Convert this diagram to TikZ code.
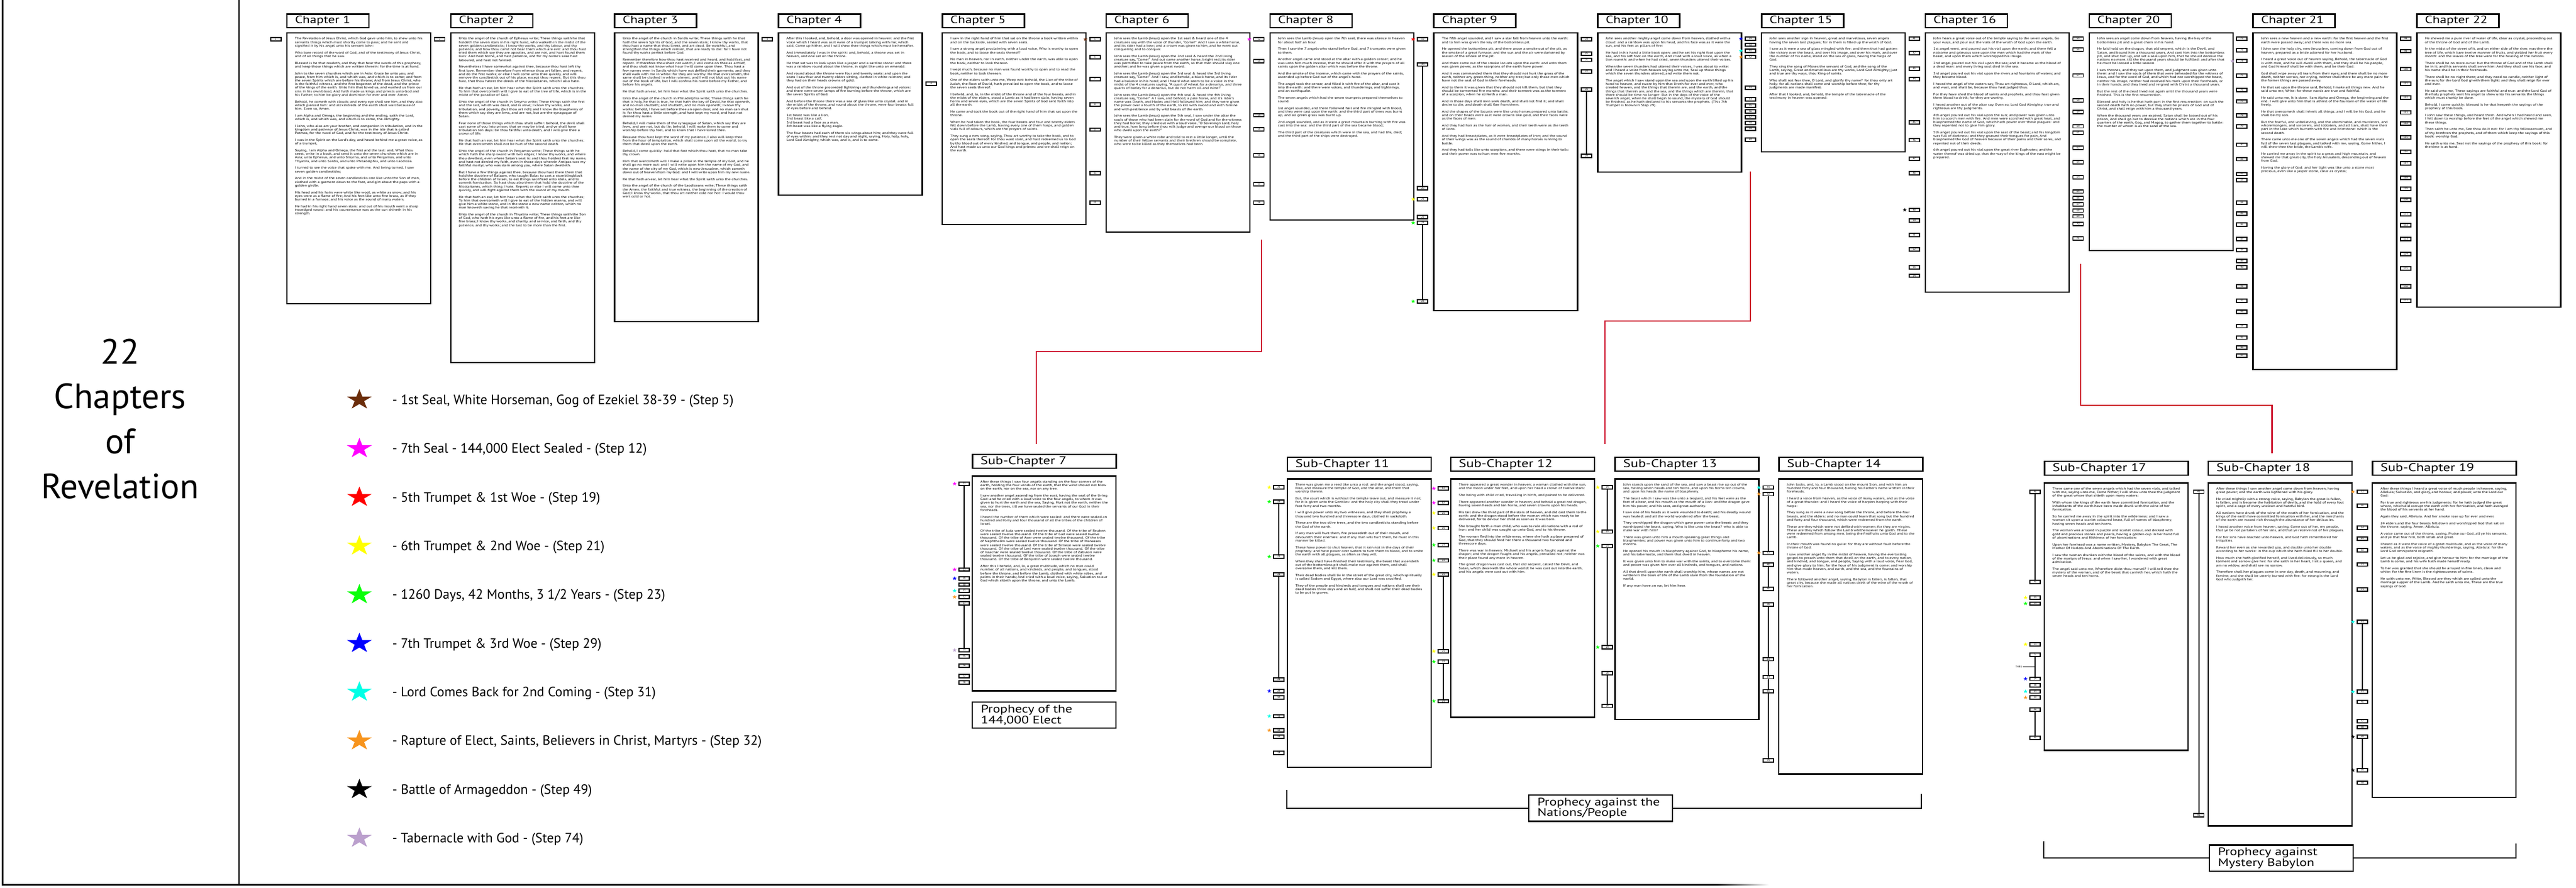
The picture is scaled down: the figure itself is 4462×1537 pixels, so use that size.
\documentclass[tikz,border=0pt]{standalone}
\usepackage{fontspec}
\usepackage{ifthen}
\setmainfont{PT Sans}
\newfontfamily\widefont[FakeStretch=1.25]{PT Sans}
\usetikzlibrary{shapes.geometric}

\definecolor{sealbrown}{RGB}{107,45,10}
\definecolor{sealmag}{RGB}{255,0,255}
\definecolor{woered}{RGB}{255,0,0}
\definecolor{woeyellow}{RGB}{255,255,0}
\definecolor{daygreen}{RGB}{10,255,10}
\definecolor{trumpblue}{RGB}{0,0,255}
\definecolor{comecyan}{RGB}{0,255,230}
\definecolor{raptorange}{RGB}{247,148,29}
\definecolor{tablilac}{RGB}{187,160,205}
\definecolor{connred}{RGB}{205,20,45}

\tikzset{
  chap/.style={draw, line width=2.6pt, anchor=north west, minimum width=142pt, minimum height=23.5pt,
    inner xsep=14pt, inner ysep=0pt, text width=114pt, align=left, font=\widefont\fontsize{18.5}{18.5}\selectfont},
  subhead/.style={chap, minimum width=249pt, minimum height=24pt, text width=221pt, font=\widefont\fontsize{19.5}{19.5}\selectfont},
  body/.style={draw, line width=2.4pt, anchor=north west, inner xsep=14pt, inner ysep=8pt,
    font=\widefont\fontsize{5.6}{6.2}\selectfont},
  caption/.style={draw, line width=2.4pt, anchor=north west, minimum width=249pt, minimum height=45.5pt,
    inner xsep=15pt, inner ysep=0pt, text width=219pt, align=left, font=\widefont\fontsize{19}{18.6}\selectfont},
  stepbox/.style={draw, line width=1.8pt, fill=white, minimum width=18pt, minimum height=5.6pt, inner sep=0pt,
    font=\fontsize{4.5}{4.5}\selectfont},
  bar/.style={line width=2pt},
  tinystar/.style={star, star points=5, star point ratio=2.5, inner sep=0pt, minimum size=6.8pt, xscale=1.15},
  keystar/.style={star, star points=5, star point ratio=2.6, inner sep=0pt, minimum size=37pt, xscale=1.22},
  keytext/.style={anchor=base west, font=\fontsize{23.5}{23.5}\selectfont},
  title/.style={anchor=base, font=\fontsize{61}{61}\selectfont},
  redline/.style={line width=2.2pt, draw=connred},
  bracket/.style={line width=2.2pt},
}

\newcommand{\vtext}[2]{\begin{minipage}[t][#1][t]{221pt}\raggedright\setlength{\parskip}{5.6pt}#2\end{minipage}}
\newcommand{\chaptext}[2]{\expandafter\def\csname rvtext#1\endcsname{#2}}
\newcommand{\subchaptext}[2]{\expandafter\def\csname subtext#1\endcsname{#2}}

% chapter texts
\chaptext{1}{The Revelation of Jesus Christ, which God gave unto him, to shew unto his servants things which must shortly come to pass; and he sent and signified it by his angel unto his servant John:\par
Who bare record of the word of God, and of the testimony of Jesus Christ, and of all things that he saw.\par
Blessed is he that readeth, and they that hear the words of this prophecy, and keep those things which are written therein: for the time is at hand.\par
John to the seven churches which are in Asia: Grace be unto you, and peace, from him which is, and which was, and which is to come; and from the seven Spirits which are before his throne; And from Jesus Christ, who is the faithful witness, and the first begotten of the dead, and the prince of the kings of the earth. Unto him that loved us, and washed us from our sins in his own blood, And hath made us kings and priests unto God and his Father; to him be glory and dominion for ever and ever. Amen.\par
Behold, he cometh with clouds; and every eye shall see him, and they also which pierced him: and all kindreds of the earth shall wail because of him. Even so, Amen.\par
I am Alpha and Omega, the beginning and the ending, saith the Lord, which is, and which was, and which is to come, the Almighty.\par
I John, who also am your brother, and companion in tribulation, and in the kingdom and patience of Jesus Christ, was in the isle that is called Patmos, for the word of God, and for the testimony of Jesus Christ.\par
I was in the Spirit on the Lord's day, and heard behind me a great voice, as of a trumpet,\par
Saying, I am Alpha and Omega, the first and the last: and, What thou seest, write in a book, and send it unto the seven churches which are in Asia; unto Ephesus, and unto Smyrna, and unto Pergamos, and unto Thyatira, and unto Sardis, and unto Philadelphia, and unto Laodicea.\par
I turned to see the voice that spake with me. And being turned, I saw seven golden candlesticks;\par
And in the midst of the seven candlesticks one like unto the Son of man, clothed with a garment down to the foot, and girt about the paps with a golden girdle.\par
His head and his hairs were white like wool, as white as snow; and his eyes were as a flame of fire; And his feet like unto fine brass, as if they burned in a furnace; and his voice as the sound of many waters.\par
He had in his right hand seven stars: and out of his mouth went a sharp twoedged sword: and his countenance was as the sun shineth in his strength.}
\chaptext{2}{Unto the angel of the church of Ephesus write; These things saith he that holdeth the seven stars in his right hand, who walketh in the midst of the seven golden candlesticks; I know thy works, and thy labour, and thy patience, and how thou canst not bear them which are evil: and thou hast tried them which say they are apostles, and are not, and hast found them liars: And hast borne, and hast patience, and for my name's sake hast laboured, and hast not fainted.\par
Nevertheless I have somewhat against thee, because thou hast left thy first love. Remember therefore from whence thou art fallen, and repent, and do the first works; or else I will come unto thee quickly, and will remove thy candlestick out of his place, except thou repent. But this thou hast, that thou hatest the deeds of the Nicolaitanes, which I also hate.\par
He that hath an ear, let him hear what the Spirit saith unto the churches; To him that overcometh will I give to eat of the tree of life, which is in the midst of the paradise of God.\par
Unto the angel of the church in Smyrna write; These things saith the first and the last, which was dead, and is alive; I know thy works, and tribulation, and poverty, (but thou art rich) and I know the blasphemy of them which say they are Jews, and are not, but are the synagogue of Satan.\par
Fear none of those things which thou shalt suffer: behold, the devil shall cast some of you into prison, that ye may be tried; and ye shall have tribulation ten days: be thou faithful unto death, and I will give thee a crown of life.\par
He that hath an ear, let him hear what the Spirit saith unto the churches; He that overcometh shall not be hurt of the second death.\par
Unto the angel of the church in Pergamos write; These things saith he which hath the sharp sword with two edges; I know thy works, and where thou dwellest, even where Satan's seat is: and thou holdest fast my name, and hast not denied my faith, even in those days wherein Antipas was my faithful martyr, who was slain among you, where Satan dwelleth.\par
But I have a few things against thee, because thou hast there them that hold the doctrine of Balaam, who taught Balac to cast a stumblingblock before the children of Israel, to eat things sacrificed unto idols, and to commit fornication. So hast thou also them that hold the doctrine of the Nicolaitanes, which thing I hate. Repent; or else I will come unto thee quickly, and will fight against them with the sword of my mouth.\par
He that hath an ear, let him hear what the Spirit saith unto the churches; To him that overcometh will I give to eat of the hidden manna, and will give him a white stone, and in the stone a new name written, which no man knoweth saving he that receiveth it.\par
Unto the angel of the church in Thyatira write; These things saith the Son of God, who hath his eyes like unto a flame of fire, and his feet are like fine brass; I know thy works, and charity, and service, and faith, and thy patience, and thy works; and the last to be more than the first.}
\chaptext{3}{Unto the angel of the church in Sardis write; These things saith he that hath the seven Spirits of God, and the seven stars; I know thy works, that thou hast a name that thou livest, and art dead. Be watchful, and strengthen the things which remain, that are ready to die: for I have not found thy works perfect before God.\par
Remember therefore how thou hast received and heard, and hold fast, and repent. If therefore thou shalt not watch, I will come on thee as a thief, and thou shalt not know what hour I will come upon thee. Thou hast a few names even in Sardis which have not defiled their garments; and they shall walk with me in white: for they are worthy. He that overcometh, the same shall be clothed in white raiment; and I will not blot out his name out of the book of life, but I will confess his name before my Father, and before his angels.\par
He that hath an ear, let him hear what the Spirit saith unto the churches.\par
Unto the angel of the church in Philadelphia write; These things saith he that is holy, he that is true, he that hath the key of David, he that openeth, and no man shutteth; and shutteth, and no man openeth; I know thy works: behold, I have set before thee an open door, and no man can shut it: for thou hast a little strength, and hast kept my word, and hast not denied my name.\par
Behold, I will make them of the synagogue of Satan, which say they are Jews, and are not, but do lie; behold, I will make them to come and worship before thy feet, and to know that I have loved thee.\par
Because thou hast kept the word of my patience, I also will keep thee from the hour of temptation, which shall come upon all the world, to try them that dwell upon the earth.\par
Behold, I come quickly: hold that fast which thou hast, that no man take thy crown.\par
Him that overcometh will I make a pillar in the temple of my God, and he shall go no more out: and I will write upon him the name of my God, and the name of the city of my God, which is new Jerusalem, which cometh down out of heaven from my God: and I will write upon him my new name.\par
He that hath an ear, let him hear what the Spirit saith unto the churches.\par
Unto the angel of the church of the Laodiceans write; These things saith the Amen, the faithful and true witness, the beginning of the creation of God; I know thy works, that thou art neither cold nor hot: I would thou wert cold or hot.}
\chaptext{4}{After this I looked, and, behold, a door was opened in heaven: and the first voice which I heard was as it were of a trumpet talking with me; which said, Come up hither, and I will shew thee things which must be hereafter.\par
And immediately I was in the spirit: and, behold, a throne was set in heaven, and one sat on the throne.\par
He that sat was to look upon like a jasper and a sardine stone: and there was a rainbow round about the throne, in sight like unto an emerald.\par
And round about the throne were four and twenty seats: and upon the seats I saw four and twenty elders sitting, clothed in white raiment; and they had on their heads crowns of gold.\par
And out of the throne proceeded lightnings and thunderings and voices: and there were seven lamps of fire burning before the throne, which are the seven Spirits of God.\par
And before the throne there was a sea of glass like unto crystal: and in the midst of the throne, and round about the throne, were four beasts full of eyes before and behind.\par
1st beast was like a lion,\newline 2nd beast like a calf,\newline 3rd beast had a face as a man,\newline 4th beast was like a flying eagle.\par
The four beasts had each of them six wings about him; and they were full of eyes within: and they rest not day and night, saying, Holy, holy, holy, Lord God Almighty, which was, and is, and is to come.}
\chaptext{5}{I saw in the right hand of him that sat on the throne a book written within and on the backside, sealed with seven seals.\par
I saw a strong angel proclaiming with a loud voice, Who is worthy to open the book, and to loose the seals thereof?\par
No man in heaven, nor in earth, neither under the earth, was able to open the book, neither to look thereon.\par
I wept much, because no man was found worthy to open and to read the book, neither to look thereon.\par
One of the elders saith unto me, Weep not: behold, the Lion of the tribe of Judah, the Root of David, hath prevailed to open the book, and to loose the seven seals thereof.\par
I beheld, and, lo, in the midst of the throne and of the four beasts, and in the midst of the elders, stood a Lamb as it had been slain, having seven horns and seven eyes, which are the seven Spirits of God sent forth into all the earth.\par
He came and took the book out of the right hand of him that sat upon the throne.\par
When he had taken the book, the four beasts and four and twenty elders fell down before the Lamb, having every one of them harps, and golden vials full of odours, which are the prayers of saints.\par
They sung a new song, saying, Thou art worthy to take the book, and to open the seals thereof: for thou wast slain, and hast redeemed us to God by thy blood out of every kindred, and tongue, and people, and nation; And hast made us unto our God kings and priests: and we shall reign on the earth.}
\chaptext{6}{John sees the Lamb (Jesus) open the 1st seal \& heard one of the 4 creatures say with the voice of thunder, “Come!” And I saw a white horse, and its rider had a bow; and a crown was given to him, and he went out conquering and to conquer.\par
John sees the Lamb (Jesus) open the 2nd seal \& heard the 2nd living creature say, “Come!” And out came another horse, bright red; its rider was permitted to take peace from the earth, so that men should slay one another; and he was given a great sword.\par
John sees the Lamb (Jesus) open the 3rd seal \& heard the 3rd living creature say, “Come!” And I saw, and behold, a black horse, and its rider had a balance in his hand; and I heard what seem to be a voice in the midst of the 4 creatures saying, “A quart of wheat for a denarius, and three quarts of barley for a denarius, but do not harm oil and wine!”\par
John sees the Lamb (Jesus) open the 4th seal \& heard the 4th living creature say, “Come!” A I saw, and behold, a pale horse, and it's rider's name was Death, and Hades and Hell followed him; and they were given the power over a fourth of the earth, to kill with sword and with famine and with pestilence and by wild beasts of the earth.\par
John sees the Lamb (Jesus) open the 5th seal, I saw under the altar the souls of those who had been slain for the word of God and for the witness they had borne; they cried out with a loud voice, “O Sovereign Lord, holy and true, how long before thou wilt judge and avenge our blood on those who dwell upon the earth?”\par
They were given a white robe and told to rest a little longer, until the number of their fellow servants and their brethren should be complete, who were to be killed as they themselves had been.}
\chaptext{8}{John sees the Lamb (Jesus) open the 7th seal, there was silence in heaven for about half an hour.\par
Then I saw the 7 angels who stand before God, and 7 trumpets were given to them.\par
Another angel came and stood at the altar with a golden censer; and he was unto him much incense, that he should offer it with the prayers of all saints upon the golden altar which was before the throne.\par
And the smoke of the incense, which came with the prayers of the saints, ascended up before God out of the angel's hand.\par
The angel took the censer, and filled it with fire of the altar, and cast it into the earth: and there were voices, and thunderings, and lightnings, and an earthquake.\par
The seven angels which had the seven trumpets prepared themselves to sound.\par
1st angel sounded, and there followed hail and fire mingled with blood, and they were cast upon the earth: and the third part of trees was burnt up, and all green grass was burnt up.\par
2nd angel sounded, and as it were a great mountain burning with fire was cast into the sea: and the third part of the sea became blood;\par
The third part of the creatures which were in the sea, and had life, died; and the third part of the ships were destroyed.}
\chaptext{9}{The fifth angel sounded, and I saw a star fall from heaven unto the earth: and to him was given the key of the bottomless pit.\par
He opened the bottomless pit; and there arose a smoke out of the pit, as the smoke of a great furnace; and the sun and the air were darkened by reason of the smoke of the pit.\par
And there came out of the smoke locusts upon the earth: and unto them was given power, as the scorpions of the earth have power.\par
And it was commanded them that they should not hurt the grass of the earth, neither any green thing, neither any tree; but only those men which have not the seal of God in their foreheads.\par
And to them it was given that they should not kill them, but that they should be tormented five months: and their torment was as the torment of a scorpion, when he striketh a man.\par
And in those days shall men seek death, and shall not find it; and shall desire to die, and death shall flee from them.\par
And the shapes of the locusts were like unto horses prepared unto battle; and on their heads were as it were crowns like gold, and their faces were as the faces of men.\par
And they had hair as the hair of women, and their teeth were as the teeth of lions.\par
And they had breastplates, as it were breastplates of iron; and the sound of their wings was as the sound of chariots of many horses running to battle.\par
And they had tails like unto scorpions, and there were stings in their tails: and their power was to hurt men five months.}
\chaptext{10}{John sees another mighty angel come down from heaven, clothed with a cloud: and a rainbow was upon his head, and his face was as it were the sun, and his feet as pillars of fire:\par
He had in his hand a little book open: and he set his right foot upon the sea, and his left foot on the earth, And cried with a loud voice, as when a lion roareth: and when he had cried, seven thunders uttered their voices.\par
When the seven thunders had uttered their voices, I was about to write: and I heard a voice from heaven saying unto me, Seal up those things which the seven thunders uttered, and write them not.\par
The angel which I saw stand upon the sea and upon the earth lifted up his hand to heaven, and sware by him that liveth for ever and ever, who created heaven, and the things that therein are, and the earth, and the things that therein are, and the sea, and the things which are therein, that there should be time no longer: But in the days of the voice of the seventh angel, when he shall begin to sound, the mystery of God should be finished, as he hath declared to his servants the prophets. (This 7th Trumpet is blown in Step 29).}
\chaptext{15}{John sees another sign in heaven, great and marvellous, seven angels having the seven last plagues; for in them is filled up the wrath of God.\par
I saw as it were a sea of glass mingled with fire: and them that had gotten the victory over the beast, and over his image, and over his mark, and over the number of his name, stand on the sea of glass, having the harps of God.\par
They sing the song of Moses the servant of God, and the song of the Lamb, saying, Great and marvellous are thy works, Lord God Almighty; just and true are thy ways, thou King of saints.\par
Who shall not fear thee, O Lord, and glorify thy name? for thou only art holy: for all nations shall come and worship before thee; for thy judgments are made manifest.\par
After that I looked, and, behold, the temple of the tabernacle of the testimony in heaven was opened:}
\chaptext{16}{John hears a great voice out of the temple saying to the seven angels, Go your ways, and pour out the vials of the wrath of God upon the earth.\par
1st angel went, and poured out his vial upon the earth; and there fell a noisome and grievous sore upon the men which had the mark of the beast, and upon them which worshipped his image.\par
2nd angel poured out his vial upon the sea; and it became as the blood of a dead man: and every living soul died in the sea.\par
3rd angel poured out his vial upon the rivers and fountains of waters; and they became blood.\par
I heard the angel of the waters say, Thou art righteous, O Lord, which art, and wast, and shalt be, because thou hast judged thus.\par
For they have shed the blood of saints and prophets, and thou hast given them blood to drink; for they are worthy.\par
I heard another out of the altar say, Even so, Lord God Almighty, true and righteous are thy judgments.\par
4th angel poured out his vial upon the sun; and power was given unto him to scorch men with fire. And men were scorched with great heat, and blasphemed the name of God, which hath power over these plagues: and they repented not to give him glory.\par
5th angel poured out his vial upon the seat of the beast; and his kingdom was full of darkness; and they gnawed their tongues for pain, And blasphemed the God of heaven because of their pains and their sores, and repented not of their deeds.\par
6th angel poured out his vial upon the great river Euphrates; and the water thereof was dried up, that the way of the kings of the east might be prepared.}
\chaptext{20}{John sees an angel come down from heaven, having the key of the bottomless pit and a great chain in his hand.\par
He laid hold on the dragon, that old serpent, which is the Devil, and Satan, and bound him a thousand years, And cast him into the bottomless pit, and shut him up, and set a seal upon him, that he should deceive the nations no more, till the thousand years should be fulfilled: and after that he must be loosed a little season.\par
I saw thrones, and they sat upon them, and judgment was given unto them: and I saw the souls of them that were beheaded for the witness of Jesus, and for the word of God, and which had not worshipped the beast, neither his image, neither had received his mark upon their foreheads, or in their hands; and they lived and reigned with Christ a thousand years.\par
But the rest of the dead lived not again until the thousand years were finished. This is the first resurrection.\par
Blessed and holy is he that hath part in the first resurrection: on such the second death hath no power, but they shall be priests of God and of Christ, and shall reign with him a thousand years.\par
When the thousand years are expired, Satan shall be loosed out of his prison, And shall go out to deceive the nations which are in the four quarters of the earth, Gog, and Magog, to gather them together to battle: the number of whom is as the sand of the sea.}
\chaptext{21}{John sees a new heaven and a new earth: for the first heaven and the first earth were passed away; and there was no more sea.\par
I John saw the holy city, new Jerusalem, coming down from God out of heaven, prepared as a bride adorned for her husband.\par
I heard a great voice out of heaven saying, Behold, the tabernacle of God is with men, and he will dwell with them, and they shall be his people, and God himself shall be with them, and be their God.\par
God shall wipe away all tears from their eyes; and there shall be no more death, neither sorrow, nor crying, neither shall there be any more pain: for the former things are passed away.\par
He that sat upon the throne said, Behold, I make all things new. And he said unto me, Write: for these words are true and faithful.\par
He said unto me, It is done. I am Alpha and Omega, the beginning and the end. I will give unto him that is athirst of the fountain of the water of life freely.\par
He that overcometh shall inherit all things; and I will be his God, and he shall be my son.\par
But the fearful, and unbelieving, and the abominable, and murderers, and whoremongers, and sorcerers, and idolaters, and all liars, shall have their part in the lake which burneth with fire and brimstone: which is the second death.\par
There came unto me one of the seven angels which had the seven vials full of the seven last plagues, and talked with me, saying, Come hither, I will shew thee the bride, the Lamb's wife.\par
He carried me away in the spirit to a great and high mountain, and shewed me that great city, the holy Jerusalem, descending out of heaven from God,\par
Having the glory of God: and her light was like unto a stone most precious, even like a jasper stone, clear as crystal;}
\chaptext{22}{He shewed me a pure river of water of life, clear as crystal, proceeding out of the throne of God and of the Lamb.\par
In the midst of the street of it, and on either side of the river, was there the tree of life, which bare twelve manner of fruits, and yielded her fruit every month: and the leaves of the tree were for the healing of the nations.\par
There shall be no more curse: but the throne of God and of the Lamb shall be in it; and his servants shall serve him: And they shall see his face; and his name shall be in their foreheads.\par
There shall be no night there; and they need no candle, neither light of the sun; for the Lord God giveth them light: and they shall reign for ever and ever.\par
He said unto me, These sayings are faithful and true: and the Lord God of the holy prophets sent his angel to shew unto his servants the things which must shortly be done.\par
Behold, I come quickly: blessed is he that keepeth the sayings of the prophecy of this book.\par
I John saw these things, and heard them. And when I had heard and seen, I fell down to worship before the feet of the angel which shewed me these things.\par
Then saith he unto me, See thou do it not: for I am thy fellowservant, and of thy brethren the prophets, and of them which keep the sayings of this book: worship God.\par
He saith unto me, Seal not the sayings of the prophecy of this book: for the time is at hand.}

% sub-chapter texts
\subchaptext{7}{After these things I saw four angels standing on the four corners of the earth, holding the four winds of the earth, that the wind should not blow on the earth, nor on the sea, nor on any tree.\par
I saw another angel ascending from the east, having the seal of the living God: and he cried with a loud voice to the four angels, to whom it was given to hurt the earth and the sea, Saying, Hurt not the earth, neither the sea, nor the trees, till we have sealed the servants of our God in their foreheads.\par
I heard the number of them which were sealed: and there were sealed an hundred and forty and four thousand of all the tribes of the children of Israel.\par
Of the tribe of Juda were sealed twelve thousand. Of the tribe of Reuben were sealed twelve thousand. Of the tribe of Gad were sealed twelve thousand. Of the tribe of Aser were sealed twelve thousand. Of the tribe of Nephthalim were sealed twelve thousand. Of the tribe of Manasses were sealed twelve thousand. Of the tribe of Simeon were sealed twelve thousand. Of the tribe of Levi were sealed twelve thousand. Of the tribe of Issachar were sealed twelve thousand. Of the tribe of Zabulon were sealed twelve thousand. Of the tribe of Joseph were sealed twelve thousand. Of the tribe of Benjamin were sealed twelve thousand.\par
After this I beheld, and, lo, a great multitude, which no man could number, of all nations, and kindreds, and people, and tongues, stood before the throne, and before the Lamb, clothed with white robes, and palms in their hands; And cried with a loud voice, saying, Salvation to our God which sitteth upon the throne, and unto the Lamb.}
\subchaptext{11}{There was given me a reed like unto a rod: and the angel stood, saying, Rise, and measure the temple of God, and the altar, and them that worship therein.\par
But, the court which is without the temple leave out, and measure it not; for it is given unto the Gentiles: and the holy city shall they tread under foot forty and two months.\par
I will give power unto my two witnesses, and they shall prophesy a thousand two hundred and threescore days, clothed in sackcloth.\par
These are the two olive trees, and the two candlesticks standing before the God of the earth.\par
If any man will hurt them, fire proceedeth out of their mouth, and devoureth their enemies: and if any man will hurt them, he must in this manner be killed.\par
These have power to shut heaven, that it rain not in the days of their prophecy: and have power over waters to turn them to blood, and to smite the earth with all plagues, as often as they will.\par
When they shall have finished their testimony, the beast that ascendeth out of the bottomless pit shall make war against them, and shall overcome them, and kill them.\par
Their dead bodies shall lie in the street of the great city, which spiritually is called Sodom and Egypt, where also our Lord was crucified.\par
They of the people and kindreds and tongues and nations shall see their dead bodies three days and an half, and shall not suffer their dead bodies to be put in graves.}
\subchaptext{12}{There appeared a great wonder in heaven; a woman clothed with the sun, and the moon under her feet, and upon her head a crown of twelve stars:\par
She being with child cried, travailing in birth, and pained to be delivered.\par
There appeared another wonder in heaven; and behold a great red dragon, having seven heads and ten horns, and seven crowns upon his heads.\par
His tail drew the third part of the stars of heaven, and did cast them to the earth: and the dragon stood before the woman which was ready to be delivered, for to devour her child as soon as it was born.\par
She brought forth a man child, who was to rule all nations with a rod of iron: and her child was caught up unto God, and to his throne.\par
The woman fled into the wilderness, where she hath a place prepared of God, that they should feed her there a thousand two hundred and threescore days.\par
There was war in heaven: Michael and his angels fought against the dragon; and the dragon fought and his angels, prevailed not; neither was their place found any more in heaven.\par
The great dragon was cast out, that old serpent, called the Devil, and Satan, which deceiveth the whole world: he was cast out into the earth, and his angels were cast out with him.}
\subchaptext{13}{John stands upon the sand of the sea, and saw a beast rise up out of the sea, having seven heads and ten horns, and upon his horns ten crowns, and upon his heads the name of blasphemy.\par
The beast which I saw was like unto a leopard, and his feet were as the feet of a bear, and his mouth as the mouth of a lion: and the dragon gave him his power, and his seat, and great authority.\par
I saw one of his heads as it were wounded to death; and his deadly wound was healed: and all the world wondered after the beast.\par
They worshipped the dragon which gave power unto the beast: and they worshipped the beast, saying, Who is like unto the beast? who is able to make war with him?\par
There was given unto him a mouth speaking great things and blasphemies; and power was given unto him to continue forty and two months.\par
He opened his mouth in blasphemy against God, to blaspheme his name, and his tabernacle, and them that dwell in heaven.\par
It was given unto him to make war with the saints, and to overcome them: and power was given him over all kindreds, and tongues, and nations.\par
All that dwell upon the earth shall worship him, whose names are not written in the book of life of the Lamb slain from the foundation of the world.\par
If any man have an ear, let him hear.}
\subchaptext{14}{John looks, and, lo, a Lamb stood on the mount Sion, and with him an hundred forty and four thousand, having his Father's name written in their foreheads.\par
I heard a voice from heaven, as the voice of many waters, and as the voice of a great thunder: and I heard the voice of harpers harping with their harps:\par
They sung as it were a new song before the throne, and before the four beasts, and the elders: and no man could learn that song but the hundred and forty and four thousand, which were redeemed from the earth.\par
These are they which were not defiled with women; for they are virgins. These are they which follow the Lamb whithersoever he goeth. These were redeemed from among men, being the firstfruits unto God and to the Lamb.\par
In their mouth was found no guile: for they are without fault before the throne of God.\par
I saw another angel fly in the midst of heaven, having the everlasting gospel to preach unto them that dwell on the earth, and to every nation, and kindred, and tongue, and people, Saying with a loud voice, Fear God, and give glory to him; for the hour of his judgment is come: and worship him that made heaven, and earth, and the sea, and the fountains of waters.\par
There followed another angel, saying, Babylon is fallen, is fallen, that great city, because she made all nations drink of the wine of the wrath of her fornication.}
\subchaptext{17}{There came one of the seven angels which had the seven vials, and talked with me, saying unto me, Come hither; I will shew unto thee the judgment of the great whore that sitteth upon many waters:\par
With whom the kings of the earth have committed fornication, and the inhabitants of the earth have been made drunk with the wine of her fornication.\par
So he carried me away in the spirit into the wilderness: and I saw a woman sit upon a scarlet coloured beast, full of names of blasphemy, having seven heads and ten horns.\par
The woman was arrayed in purple and scarlet colour, and decked with gold and precious stones and pearls, having a golden cup in her hand full of abominations and filthiness of her fornication:\par
Upon her forehead was a name written, Mystery, Babylon The Great, The Mother Of Harlots And Abominations Of The Earth.\par
I saw the woman drunken with the blood of the saints, and with the blood of the martyrs of Jesus: and when I saw her, I wondered with great admiration.\par
The angel said unto me, Wherefore didst thou marvel? I will tell thee the mystery of the woman, and of the beast that carrieth her, which hath the seven heads and ten horns.}
\subchaptext{18}{After these things I saw another angel come down from heaven, having great power; and the earth was lightened with his glory.\par
He cried mightily with a strong voice, saying, Babylon the great is fallen, is fallen, and is become the habitation of devils, and the hold of every foul spirit, and a cage of every unclean and hateful bird.\par
All nations have drunk of the wine of the wrath of her fornication, and the kings of the earth have committed fornication with her, and the merchants of the earth are waxed rich through the abundance of her delicacies.\par
I heard another voice from heaven, saying, Come out of her, my people, that ye be not partakers of her sins, and that ye receive not of her plagues.\par
For her sins have reached unto heaven, and God hath remembered her iniquities.\par
Reward her even as she rewarded you, and double unto her double according to her works: in the cup which she hath filled fill to her double.\par
How much she hath glorified herself, and lived deliciously, so much torment and sorrow give her: for she saith in her heart, I sit a queen, and am no widow, and shall see no sorrow.\par
Therefore shall her plagues come in one day, death, and mourning, and famine; and she shall be utterly burned with fire: for strong is the Lord God who judgeth her.}
\subchaptext{19}{After these things I heard a great voice of much people in heaven, saying, Alleluia; Salvation, and glory, and honour, and power, unto the Lord our God:\par
For true and righteous are his judgments: for he hath judged the great whore, which did corrupt the earth with her fornication, and hath avenged the blood of his servants at her hand.\par
Again they said, Alleluia. And her smoke rose up for ever and ever.\par
24 elders and the four beasts fell down and worshipped God that sat on the throne, saying, Amen; Alleluia.\par
A voice came out of the throne, saying, Praise our God, all ye his servants, and ye that fear him, both small and great.\par
I heard as it were the voice of a great multitude, and as the voice of many waters, and as the voice of mighty thunderings, saying, Alleluia: for the Lord God omnipotent reigneth.\par
Let us be glad and rejoice, and give honour to him: for the marriage of the Lamb is come, and his wife hath made herself ready.\par
To her was granted that she should be arrayed in fine linen, clean and white: for the fine linen is the righteousness of saints.\par
He saith unto me, Write, Blessed are they which are called unto the marriage supper of the Lamb. And he saith unto me, These are the true sayings of God.}

\begin{document}
\begin{tikzpicture}[x=1pt, y=-1pt, line join=miter]
\useasboundingbox (0,0) rectangle (4462,1537);

% frame of the title panel
\draw[line width=2.6pt] (4.6,0) -- (4.6,1532.5) -- (2968,1532.5);
\shade[left color=black, right color=white] (2968,1531.2) rectangle (3064,1533.8);
\draw[line width=2.2pt] (414,0) -- (414,1532.5);

\foreach \w [count=\i from 0] in {22,Chapters,of,Revelation}
  \node[title] (t\i) at (208,630+77.7*\i) {\w};

% legend
\foreach \clr/\txt [count=\i from 0] in {
  sealbrown/{- 1st Seal, White Horseman, Gog of Ezekiel 38-39 - (Step 5)},
  sealmag/{- 7th Seal - 144,000 Elect Sealed - (Step 12)},
  woered/{- 5th Trumpet \& 1st Woe - (Step 19)},
  woeyellow/{- 6th Trumpet \& 2nd Woe - (Step 21)},
  daygreen/{- 1260 Days, 42 Months, 3 1/2 Years - (Step 23)},
  trumpblue/{- 7th Trumpet \& 3rd Woe - (Step 29)},
  comecyan/{- Lord Comes Back for 2nd Coming - (Step 31)},
  raptorange/{- Rapture of Elect, Saints, Believers in Christ, Martyrs - (Step 32)},
  black/{- Battle of Armageddon - (Step 49)},
  tablilac/{- Tabernacle with God - (Step 74)}}{
  \node[keystar, fill=\clr] (k\i) at (622.5,692.6+84.35*\i) {};
  \node[keytext] (kt\i) at (676,700.5+84.35*\i) {\txt};
}

% the fourteen chapters of the top row
\foreach \n/\h [count=\i from 0] in {1/453.2,2/555.2,3/484.2,4/265.2,5/315.7,6/329.2,8/308.2,
    9/465.2,10/225.2,15/190.2,16/433.2,20/361.2,21/567.2,22/459.2}{
  \node[chap] (h\n) at (495.7+283.8*\i,23) {Chapter \n};
  \node[body] (c\n) at (495.7+283.8*\i,55.8) {\vtext{\h pt}{\csname rvtext\n\endcsname}};
}

% sub-chapters
\foreach \n/\x/\y/\h in {7/1683/785.7/356.2,11/2228.6/790.8/483.3,12/2511.6/790.8/396.9,
    13/2796.4/790.8/400.3,14/3080/790.8/494.9,17/3540/797.7/447,18/3823.7/797.7/578,19/4108/797.7/528.6}{
  \node[subhead] (sh\n) at (\x,\y) {Sub-Chapter \n};
  \node[body] (sc\n) at (\x,\y+37.5) {\vtext{\h pt}{\csname subtext\n\endcsname}};
}

\node[caption] (elect) at (1683,1214.5) {Prophecy of the\\144,000 Elect};
\node[caption] (nations) at (2647,1375.7) {Prophecy against the\\Nations/People};
\node[caption] (babylon) at (3825.6,1462.4) {Prophecy against\\Mystery Babylon};

% step markers: column / x / {step/y/star}
\foreach \col/\cx/\items in {
  s1/477.7/{1/68/none},
  s2/761.5/{2/68/none},
  s4/1329.1/{3/68/none},
  s5/1612.9/{4/145/none},
  s6/1896.7/{5/68/sealbrown,6/99/none,7/137/none,8/181/none,9/224.5/none,10/300/none,11/351/none},
  s8/2180.5/{12/68/sealmag,13/106/none,14/199.5/none,15/224/none,16/269/none,17/319/none,18/351/none},
  s9/2464.3/{19/68/woered,20/111.6/none,20/326/none,21/345/woeyellow,22/376/none,23/386/daygreen,23/522/daygreen},
  s10/2748.1/{24/68/none,25/93/none,26/103.6/none,27/124/none,28/155/none,28/270/none},
  s15/3031.9/{29/67/trumpblue,30/77.5/none,31/88/comecyan,32/98.6/raptorange,33/152/none,34/172/none,
    35/183/none,36/193/none,37/203/none,38/213/none,39/223/none,40/242/none},
  s16/3315.7/{41/67/none,42/92/none,43/119/none,44/137/none,45/212/none,46/242.6/none,47/275/none,
    48/300/none,49/363.6/black,50/382/none,51/407/none,52/432/none,53/463/none,54/477.5/none},
  s20/3599.5/{55/67/none,56/86/none,57/130.6/none,58/174/none,59/194/none,60/218.7/none,61/230/none,
    62/256/none,63/281/none,64/307/none,65/331.6/none,66/343/none,67/354/none,68/364.6/none,
    69/374.6/none,70/388/none,71/413/none},
  s21/3883.3/{72/67/none,73/87/none,74/105.7/tablilac,75/131/none,76/156/none,77/175.6/none,78/200/none,
    79/219/none,80/250.7/none,81/275.6/none,82/301.4/none,83/312/none,84/351/none,85/370/none,
    86/389/none,87/414/none,88/433/none,89/452/none,90/463/none,91/496/none,92/521/none,93/540/none,
    94/564.6/none,95/584.7/none,96/602/none,97/616/none},
  s22/4167.1/{98/67/none,99/88.5/none,100/119.6/none,101/145/none,102/169/none,103/194.7/none,
    104/214/none,105/238/none,106/263/none,107/283/none,108/308/none,109/327/none,110/346/none,
    111/371/none,112/390/none,113/414/none,114/440/none,115/465/none,116/496/none,117/521/none},
  t7/1670/{12/837.8/sealmag,12/986.5/sealmag,29/1001.8/trumpblue,30/1012.5/none,31/1023/comecyan,
    32/1034/raptorange,57/1045/none,74/1126/tablilac,75/1137/none,76/1153/none,77/1171/none,78/1182/none},
  t11/2215/{21/844/woeyellow,23/869/daygreen,23/964/daygreen,28/995/none,28/1177/none,29/1197/trumpblue,
    30/1208/none,31/1240.5/comecyan,32/1265/raptorange,33/1276/none,34/1304/none},
  t12/2500/{12/846/sealmag,12/871/sealmag,21/888.7/woeyellow,21/914.7/woeyellow,23/944/daygreen,
    23/970.7/daygreen,21/995/woeyellow,21/1128/woeyellow,23/1146/daygreen,23/1214.5/daygreen},
  t13/2784/{21/844/woeyellow,21/920.7/woeyellow,23/945.7/daygreen,23/1121/daygreen,28/1166/none,28/1222.7/none},
  t14/3063/{31/844.3/comecyan,32/855.7/raptorange,32/957.7/raptorange,40/978/none,46/1020/none,49/1047/none,
    63/1141.7/none,64/1172.7/none,65/1197.3/none,71/1317/none},
  t17/3525/{46/852/none,46/1008/none,21/1035/woeyellow,23/1045.4/daygreen,21/1116/woeyellow,5/1134/none,
    29/1175.7/trumpblue,30/1187/none,31/1197.6/comecyan,32/1208/raptorange,46/1229/none,46/1278/none},
  t18/3808.5/{46/851.6/none,46/1412/none},
  t19/4092/{32/851.6/raptorange,46/876/none,64/914/none,65/933/none,66/953/none,72/977.6/none,73/1021/none,
    31/1077/comecyan,31/1198/comecyan,46/1215.7/none,47/1249/none,48/1259.5/none,49/1276/black,
    49/1334/black,50/1355.6/none}}{
  \foreach \lab/\yy/\clr [count=\k] in \items {
    \node[stepbox] (\col-\k) at (\cx,\yy) {\lab};
    \ifthenelse{\equal{\clr}{none}}{}{%
      \node[tinystar, fill=\clr] (\col-\k-star) at ([xshift=-16.5pt]\col-\k.center) {};}
  }
}

% ranges between step markers
\draw[bar] (s9-2) -- (s9-3);
\draw[bar] (s9-6) -- (s9-7);
\draw[bar] (s10-5) -- (s10-6);
\draw[bar] (t7-1) -- (t7-2);
\draw[bar] (t7-7) -- (t7-8);
\draw[bar] (t11-2) -- (t11-3);
\draw[bar] (t11-4) -- (t11-5);
\draw[bar] (t12-7) -- (t12-8);
\draw[bar] (t12-9) -- (t12-10);
\draw[bar] (t13-1) -- (t13-2);
\draw[bar] (t13-3) -- (t13-4);
\draw[bar] (t13-5) -- (t13-6);
\draw[bar] (t14-2) -- (t14-3);
\draw[bar] (t14-4) -- (t14-5);
\draw[bar] (t14-6) -- (t14-7) -- (t14-8) -- (t14-9) -- (t14-10);
\draw[bar] (t17-1) -- (t17-2);
\draw[bar] (t17-6) -- (t17-7) coordinate[midway] (thrumid);
\draw[bar] (t17-11) -- (t17-12);
\draw[bar] (t18-1) -- (t18-2);
\draw[bar] (t19-8) -- (t19-9);
\draw[bar] (t19-13) -- (t19-14);
\node[font=\fontsize{4.5}{4.5}\selectfont, inner sep=1pt] (thru) at (3497,1154.8) {THRU};
\draw[line width=1pt] (thru.east) -- (thrumid);

% red connectors down to the sub-chapters
\coordinate (r1a) at (2185,415);
\coordinate (r1b) at (1795,769);
\coordinate (r2a) at (3032,297);
\coordinate (r2b) at (2780,769);
\coordinate (r3a) at (3604,457);
\coordinate (r3b) at (3935.5,785);
\draw[redline] (r1a) -- ++(0,194) -| (r1b);
\draw[redline] (r2a) -- ++(0,259) -| (r2b);
\draw[redline] (r3a) -- ++(0,245) -| (r3b);

% brackets under the prophecies
\coordinate (nl) at (2228.6,1368);
\coordinate (nr) at (3328,1375);
\coordinate (bl) at (3540,1457);
\coordinate (br) at (4358,1461);
\draw[bracket] (nl) |- (nations.west);
\draw[bracket] (nations.east) -| (nr);
\draw[bracket] (bl) |- (babylon.west);
\draw[bracket] (babylon.east) -| (br);
\end{tikzpicture}
\end{document}
